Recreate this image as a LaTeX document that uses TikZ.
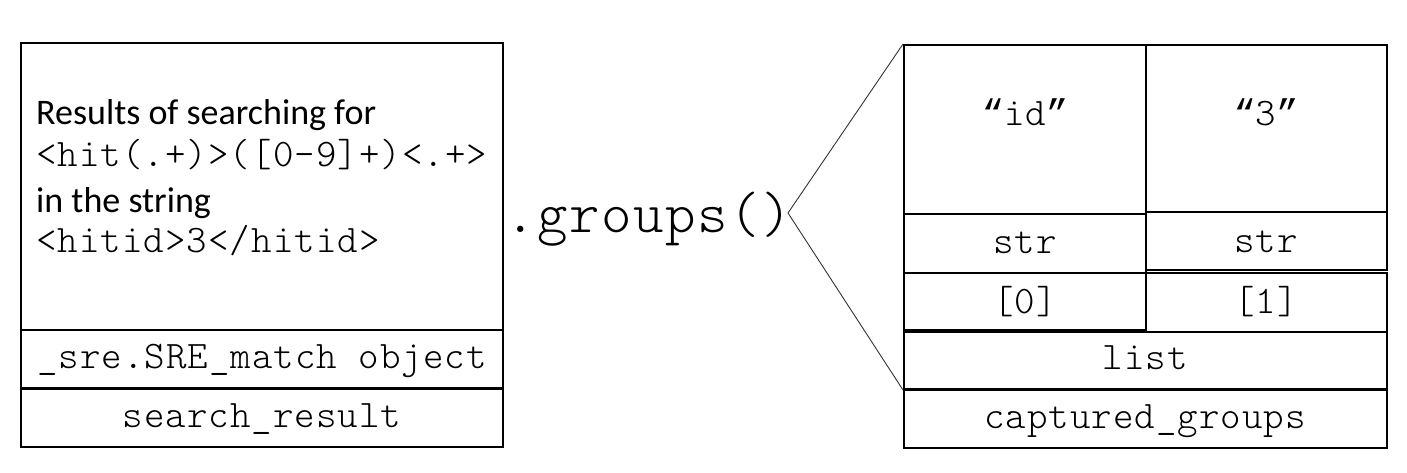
\documentclass[tikz,border=0pt]{standalone}
\usepackage{fontspec}
\setmainfont{Carlito}
\newfontfamily\codefont[LetterSpace=2.7]{lmmonolt10-regular.otf}
\newfontfamily\quotefont{Liberation Mono}
\newcommand{\myopenq}{{\quotefont\fontsize{37}{42}\selectfont “}}
\newcommand{\mycloseq}{{\quotefont\fontsize{37}{42}\selectfont ”}}
\begin{document}
\begin{tikzpicture}[x=1pt,y=-1pt,
  cell/.style={draw=black,line width=2pt,inner sep=0pt},
  code/.style={font=\codefont\fontsize{39}{42}\selectfont,inner sep=0pt},
  prose/.style={font=\fontsize{36}{42}\selectfont,inner sep=0pt},
  link/.style={draw=black!80,line width=0.9pt}]
\useasboundingbox (0,0) rectangle (1407,473);
% left object
\node[cell,minimum width=482pt,minimum height=287pt,anchor=north west] (matchbox) at (20,42) {};
\node[cell,minimum width=482pt,minimum height=58pt,anchor=north west] (typebox) at (20,329) {};
\node[cell,minimum width=482pt,minimum height=58pt,anchor=north west] (namebox) at (20,388) {};
\node[prose,anchor=base west] (l1) at (36,125) {Results of searching for};
\node[code,anchor=base west] (l2) at (36,167) {<hit(.+)>({[}0-9]+)<.+>};
\node[prose,anchor=base west] (l3) at (36,212) {in the string};
\node[code,anchor=base west] (l4) at (36,252) {<hitid>3</hitid>};
\node[code,anchor=base] (typetext) at (262,368) {\_sre.SRE\_match object};
\node[code,anchor=base] (nametext) at (262,427) {search\_result};
% method
\node[anchor=base,inner sep=0pt,font=\codefont\fontsize{58}{62}\selectfont] (method) at (649,232) {.groups()};
\coordinate (apex) at (788,213);
% right object
\node[cell,minimum width=242pt,minimum height=169pt,anchor=north west] (v0) at (903,44) {};
\node[cell,minimum width=242pt,minimum height=59pt,anchor=north west] (t0) at (903,213) {};
\node[cell,minimum width=242pt,minimum height=57pt,anchor=north west] (i0) at (903,272) {};
\node[cell,minimum width=241pt,minimum height=167pt,anchor=north west] (v1) at (1145,44) {};
\node[cell,minimum width=241pt,minimum height=58pt,anchor=north west] (t1) at (1145,211) {};
\node[cell,minimum width=241pt,minimum height=59pt,anchor=north west] (i1) at (1145,272) {};
\node[cell,minimum width=483pt,minimum height=57pt,anchor=north west] (listbox) at (903,331) {};
\node[cell,minimum width=483pt,minimum height=58pt,anchor=north west] (groupsbox) at (903,389) {};
\node[code,anchor=base] (v0text) at (1025,126) {\myopenq id\mycloseq};
\node[code,anchor=base] (v1text) at (1266,126) {\myopenq 3\mycloseq};
\node[code,anchor=base] (t0text) at (1025,253) {str};
\node[code,anchor=base] (t1text) at (1266,252) {str};
\node[code,anchor=base] (i0text) at (1025,313) {{[}0]};
\node[code,anchor=base] (i1text) at (1266,313) {{[}1]};
\node[code,anchor=base] (listtext) at (1145,369) {list};
\node[code,anchor=base] (groupstext) at (1145,428) {captured\_groups};
% connectors
\draw[link] (apex) -- (v0.north west);
\draw[link] (apex) -- (listbox.south west);
\end{tikzpicture}
\end{document}
